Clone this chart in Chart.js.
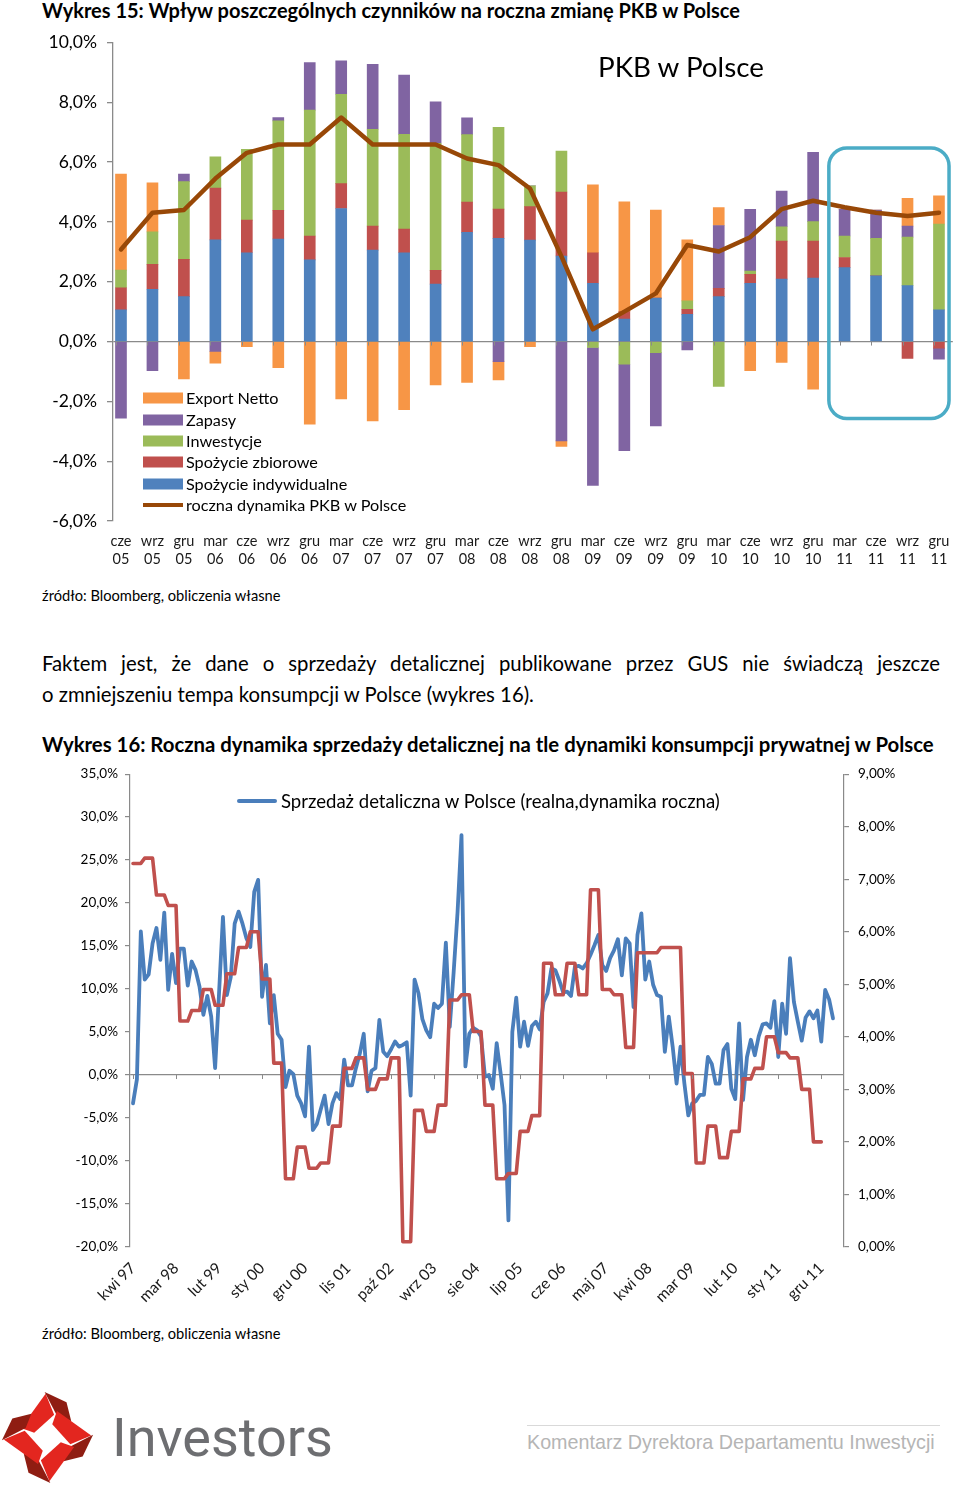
<!DOCTYPE html>
<html><head><meta charset="utf-8">
<script src="https://cdn.jsdelivr.net/npm/chart.js@4.4.1/dist/chart.umd.min.js"></script>
<style>
html,body{margin:0;padding:0;background:#fff;}
body{width:960px;height:1485px;position:relative;overflow:hidden;font-family:Lato,'Noto Sans',sans-serif;color:#000;}
.t{position:absolute;white-space:nowrap;line-height:1.2;transform:translateY(-50%);}
canvas{position:absolute;left:0;}
.sw{position:absolute;left:143px;width:40px;height:11px;transform:translateY(-50%);}
</style></head><body>

<canvas id="c1" width="960" height="558" style="top:22px"></canvas>
<canvas id="c2" width="960" height="563" style="top:757px"></canvas>

<div class="t fit" data-w="700" style="left:42px;top:10px;font-weight:700;font-size:18px">Wykres 15: Wpływ poszczególnych czynników na roczna zmianę PKB w Polsce</div>
<div class="t fit" data-w="167" style="left:598px;top:67px;font-size:28px">PKB w Polsce</div>

<div class="sw" style="top:398px;background:#F79646"></div>
<div class="sw" style="top:420px;background:#8064A2"></div>
<div class="sw" style="top:441px;background:#9BBB59"></div>
<div class="sw" style="top:462px;background:#C0504D"></div>
<div class="sw" style="top:484px;background:#4F81BD"></div>
<div class="sw" style="top:505px;height:4px;background:#984807"></div>
<div class="t lg1" style="left:186px;top:398px;font-size:16px">Export Netto</div>
<div class="t lg1" style="left:186px;top:420px;font-size:16px">Zapasy</div>
<div class="t lg1" style="left:186px;top:441px;font-size:16px">Inwestycje</div>
<div class="t lg1" style="left:186px;top:462px;font-size:16px">Spożycie zbiorowe</div>
<div class="t lg1" style="left:186px;top:484px;font-size:16px">Spożycie indywidualne</div>
<div class="t lg1" id="lg1last" style="left:186px;top:505px;font-size:16px">roczna dynamika PKB w Polsce</div>

<div class="t fit" data-w="239" style="left:42px;top:596px;font-size:14px">źródło: Bloomberg, obliczenia własne</div>

<div class="t" id="p1" style="left:42px;top:663px;width:898px;white-space:normal;text-align:justify;text-align-last:justify;font-size:18px">Faktem jest, że dane o sprzedaży detalicznej publikowane przez GUS nie świadczą jeszcze</div>
<div class="t" id="p2" style="left:42px;top:694px;font-size:18px">o zmniejszeniu tempa konsumpcji w Polsce (wykres 16).</div>

<div class="t fit" data-w="894" style="left:42px;top:744px;font-weight:700;font-size:18px">Wykres 16: Roczna dynamika sprzedaży detalicznej na tle dynamiki konsumpcji prywatnej w Polsce</div>

<div style="position:absolute;left:237px;top:799px;width:40px;height:4px;background:#4A7EBB;border-radius:2px"></div>
<div class="t fit" data-w="440" style="left:281px;top:801px;font-size:17px">Sprzedaż detaliczna w Polsce (realna,dynamika roczna)</div>

<div class="t fit" data-w="239" style="left:42px;top:1334px;font-size:14px">źródło: Bloomberg, obliczenia własne</div>

<svg style="position:absolute;left:0;top:1390px" width="95" height="95" viewBox="0 0 100 100">
  <defs>
    <g id="arm">
      <polygon points="48,4 57,26 36,45 22,40" fill="#e3261f"/>
      <polygon points="47,2 70,13 75,33 60,27" fill="#8f1d12"/>
    </g>
  </defs>
  <use href="#arm"/>
  <use href="#arm" transform="rotate(90 50 50)"/>
  <use href="#arm" transform="rotate(180 50 50)"/>
  <use href="#arm" transform="rotate(270 50 50)"/>
</svg>
<div class="t fit" data-w="221" style="left:112px;top:1438px;font-family:Roboto,sans-serif;font-size:54px;color:#6d6e71">Investors</div>
<div style="position:absolute;left:527px;top:1425px;width:413px;height:1px;background:#d9d9d9"></div>
<div class="t fit" data-w="408" style="left:527px;top:1443px;font-family:'Liberation Sans',Arial,sans-serif;font-size:19px;color:#b5b5b5">Komentarz Dyrektora Departamentu Inwestycji</div>

<script>
// ---------- Wykres 15 data ----------
const quarters = ['cze 05','wrz 05','gru 05','mar 06','cze 06','wrz 06','gru 06','mar 07','cze 07','wrz 07','gru 07','mar 08','cze 08','wrz 08','gru 08','mar 09','cze 09','wrz 09','gru 09','mar 10','cze 10','wrz 10','gru 10','mar 11','cze 11','wrz 11','gru 11'];
const spozycieIndywidualne = [1.06,1.75,1.50,3.40,2.97,3.43,2.73,4.45,3.06,2.97,1.92,3.65,3.45,3.39,2.86,1.95,0.75,1.45,0.91,1.50,1.95,2.09,2.12,2.47,2.20,1.87,1.06];
const spozycieZbiorowe = [0.74,0.83,1.25,1.73,1.09,0.96,0.80,0.83,0.80,0.79,0.46,1.01,0.98,1.12,2.14,1.02,0.25,0,0.17,0.28,0.30,1.27,1.24,0.34,0,-0.56,-0.22];
const inwestycje = [0.59,1.09,2.60,1.05,2.37,2.99,4.21,2.99,3.24,3.17,4.25,2.26,2.73,0.70,1.37,-0.20,-0.76,-0.37,0.28,-1.50,0.11,0.48,0.65,0.72,1.25,1.62,2.87];
const zapasy = [-2.56,-0.97,0.25,-0.33,0,0.11,1.59,1.12,2.17,1.98,1.39,0.56,-0.67,0,-3.32,-4.61,-2.89,-2.45,-0.28,2.10,2.06,1.19,2.32,0.89,0.95,0.37,-0.37];
const exportNetto = [3.21,1.64,-1.25,-0.39,-0.17,-0.87,-2.76,-1.92,-2.65,-2.28,-1.45,-1.37,-0.61,-0.17,-0.19,2.27,3.67,2.95,2.04,0.60,-0.97,-0.70,-1.59,0,0,0.93,0.94];
const pkbRoczna = [3.08,4.31,4.40,5.45,6.31,6.59,6.59,7.49,6.59,6.59,6.59,6.12,5.90,5.12,2.85,0.41,1.00,1.61,3.23,3.01,3.49,4.43,4.71,4.49,4.31,4.20,4.31];
// highlighted range (data units): quarters 22.5..26.3, values 6.47..-2.57
const highlightQuarters = [22.5, 26.32];
const highlightValues = [6.47, -2.57];

// ---------- Wykres 16 data ----------
const tickMonths = [0,11,22,33,44,55,66,77,88,99,110,121,132,143,154,165,176];
const tickLabels = ['kwi 97','mar 98','lut 99','sty 00','gru 00','lis 01','paź 02','wrz 03','sie 04','lip 05','cze 06','maj 07','kwi 08','mar 09','lut 10','sty 11','gru 11'];
const sprzedazDetaliczna = [
 -3.3,-0.5,16.7,11.1,11.7,15.3,17.1,13.4,18.9,9.9,14.1,10.7,14.7,14.7,10.4,13.2,12.2,10.3,7.0,9.2,
 6.8,0.8,9.5,18.4,9.3,11.4,17.6,19.0,17.6,15.9,14.9,21.3,22.7,9.1,12.8,6.0,9.3,4.8,4.1,-1.4,
 0.5,0.1,-2.4,-3.3,-4.8,3.3,-6.4,-5.7,-4.0,-2.4,-5.7,-3.3,-2.1,-2.8,1.8,-1.2,-1.2,0.8,2.5,4.8,
 -1.9,0.5,0.8,6.4,2.7,2.2,3.0,3.9,3.3,3.5,3.8,-2.4,11.1,9.5,6.5,5.2,4.4,8.3,7.8,8.3,
 15.4,5.6,12.0,19.0,27.9,1.0,4.8,5.5,5.2,4.5,-0.2,0.0,-1.6,3.7,0.2,-3.5,-16.9,5.0,9.0,3.3,
 6.2,3.4,5.7,6.2,5.3,8.5,9.5,12.4,12.2,11.0,9.6,9.7,9.2,12.6,12.7,12.4,13.0,14.0,15.1,16.3,
 12.8,12.1,13.6,14.5,15.8,11.6,15.9,15.3,7.9,16.3,18.8,11.1,13.2,10.5,9.3,9.1,2.7,6.8,3.3,-1.0,
 3.3,-1.0,-4.7,-3.3,-3.0,-2.3,-2.3,2.1,1.3,-1.0,-1.0,2.9,3.6,-1.6,-2.8,6.0,-2.9,2.1,4.1,2.3,
 4.5,5.9,6.0,5.5,8.6,2.1,8.3,4.8,13.6,8.5,6.2,4.0,6.7,7.4,6.6,7.5,3.9,9.9,8.8,6.6
];
const konsumpcjaPrywatna = [
 7.3,7.3,7.3, 7.4,7.4,7.4, 6.7,6.7,6.7, 6.5,6.5,6.5, 4.3,4.3,4.3, 4.5,4.5,4.5, 4.9,4.9,4.9, 4.6,4.6,4.6,
 5.2,5.2,5.2, 5.7,5.7,5.7, 6.0,6.0,6.0, 5.1,5.1,5.1, 3.5,3.5,3.5, 1.3,1.3,1.3, 1.9,1.9,1.9, 1.5,1.5,1.5,
 1.6,1.6,1.6, 2.3,2.3,2.3, 3.4,3.4,3.4, 3.6,3.6,3.6, 3.0,3.0,3.0, 3.2,3.2,3.2, 3.6,3.6,3.6, 0.1,0.1,0.1,
 2.6,2.6,2.6, 2.2,2.2,2.2, 2.7,2.7,2.7, 4.7,4.7,4.7, 4.8,4.8,4.8, 4.1,4.1,4.1, 2.7,2.7,2.7, 1.3,1.3,1.3,
 1.4,1.4,1.4, 2.2,2.2,2.2, 2.5,2.5,2.5, 5.4,5.4,5.4, 4.8,4.8,4.8, 5.4,5.4,5.4, 4.8,4.8,4.8, 6.8,6.8,6.8,
 4.9,4.9,4.9, 4.8,4.8,4.8, 3.8,3.8,3.8, 5.6,5.6,5.6, 5.6,5.6,5.6, 5.7,5.7,5.7, 5.7,5.7,5.7, 3.3,3.3,3.3,
 1.6,1.6,1.6, 2.3,2.3,2.3, 1.7,1.7,1.7, 2.2,2.2,2.2, 3.2,3.2,3.2, 3.4,3.4,3.4, 4.0,4.0,4.0, 3.7,3.7,3.7,
 3.6,3.6,3.6, 3.0,3.0,3.0, 2.0,2.0,2.0
];

const toXY = arr => arr.map((v,i)=>({x:i,y:v}));
const pct1 = v => v.toFixed(1).replace('.',',')+'%';
const pct2 = v => v.toFixed(2).replace('.',',')+'%';
const AX = '#8a8a8a';

function fitText(){
  const c = document.createElement('canvas').getContext('2d');
  const measure = el => { const cs=getComputedStyle(el); c.font = `${cs.fontStyle} ${cs.fontWeight} ${cs.fontSize} ${cs.fontFamily}`; return {w:c.measureText(el.textContent).width, fs:parseFloat(cs.fontSize)}; };
  document.querySelectorAll('.fit').forEach(el=>{ const m=measure(el); el.style.fontSize=(m.fs*(+el.dataset.w)/m.w)+'px'; });
  const l = document.getElementById('lg1last'); const ml = measure(l); const fs1 = ml.fs*221/ml.w;
  document.querySelectorAll('.lg1').forEach(el=>el.style.fontSize=fs1+'px');
  const p2 = document.getElementById('p2'); const mp = measure(p2); const fs2 = mp.fs*493/mp.w;
  p2.style.fontSize = fs2+'px'; document.getElementById('p1').style.fontSize = fs2+'px';
}

function build(){
  fitText();
  Chart.defaults.font.family = "Lato, 'Noto Sans', sans-serif";
  Chart.defaults.color = '#111';

  const highlight = {id:'hl', afterDraw(chart){
    const {ctx, scales:{x,y}} = chart;
    const l=x.getPixelForValue(highlightQuarters[0]), r=x.getPixelForValue(highlightQuarters[1]);
    const t=y.getPixelForValue(highlightValues[0]), b=y.getPixelForValue(highlightValues[1]);
    ctx.save(); ctx.strokeStyle='#4BACC6'; ctx.lineWidth=3.5; ctx.beginPath(); ctx.roundRect(l,t,r-l,b-t,18); ctx.stroke();
    // small category tick marks on the zero line
    const y0=y.getPixelForValue(0); ctx.strokeStyle=AX; ctx.lineWidth=1;
    quarters.forEach((q,i)=>{ const px=Math.round(x.getPixelForValue(i)-5)+0.5; ctx.beginPath(); ctx.moveTo(px,y0); ctx.lineTo(px,y0+4); ctx.stroke(); });
    ctx.restore();
  }};

  const barDs = (label, data, color) => ({type:'bar', label, data:toXY(data), backgroundColor:color, stack:'s', order:1, barThickness:11});
  new Chart(document.getElementById('c1'), {
    type:'bar',
    data:{datasets:[
      {type:'line', label:'roczna dynamika PKB w Polsce', data:toXY(pkbRoczna), borderColor:'#984807', borderWidth:4.5, pointRadius:0, tension:0, order:0, stack:'pkb', borderJoinStyle:'round', borderCapStyle:'round'},
      barDs('Spożycie indywidualne', spozycieIndywidualne, '#4F81BD'),
      barDs('Spożycie zbiorowe', spozycieZbiorowe, '#C0504D'),
      barDs('Inwestycje', inwestycje, '#9BBB59'),
      barDs('Zapasy', zapasy, '#8064A2'),
      barDs('Export Netto', exportNetto, '#F79646')
    ]},
    options:{
      responsive:false, animation:false, events:[],
      layout:{padding:{top:4,right:5,left:0,bottom:0}},
      plugins:{legend:{display:false}, tooltip:{enabled:false}},
      scales:{
        x:{type:'linear', offset:false, min:-0.254, max:26.44,
           grid:{display:false, drawTicks:false}, border:{display:false},
           afterBuildTicks:s=>{ s.ticks = quarters.map((_,i)=>({value:i})); },
           afterFit:s=>{ s.height = 59; },
           ticks:{autoSkip:false, maxRotation:0, minRotation:0, padding:10.5, color:'#1a1a1a',
                  font:{size:14.5, lineHeight:1.3}, callback:v=>quarters[v]?quarters[v].split(' '):''}},
        y:{stacked:true, min:-6, max:10,
           afterFit:s=>{ s.width = 113; },
           ticks:{stepSize:2, callback:v=>pct1(v), font:{size:17.5}, color:'#000', padding:10},
           grid:{color:c=>(c.tick && c.tick.value===0)?AX:'rgba(0,0,0,0)', tickColor:AX, tickLength:6, lineWidth:1.3},
           border:{color:AX, width:1.3}}
      }
    },
    plugins:[highlight]
  });

  const zeroTicks = {id:'zt', afterDraw(chart){
    const {ctx, scales:{x,y}} = chart; const y0=y.getPixelForValue(0);
    ctx.save(); ctx.strokeStyle=AX; ctx.lineWidth=1;
    tickMonths.forEach(m=>{ const px=Math.round(x.getPixelForValue(m))+0.5; ctx.beginPath(); ctx.moveTo(px,y0); ctx.lineTo(px,y0+4); ctx.stroke(); });
    ctx.restore();
  }};

  new Chart(document.getElementById('c2'), {
    type:'line',
    data:{datasets:[
      {label:'Konsumpcja prywatna', data:toXY(konsumpcjaPrywatna), yAxisID:'y2', borderColor:'#C0504D', borderWidth:3.6, pointRadius:0, tension:0, order:0, borderJoinStyle:'round', borderCapStyle:'round'},
      {label:'Sprzedaż detaliczna w Polsce (realna,dynamika roczna)', data:toXY(sprzedazDetaliczna), yAxisID:'y', borderColor:'#4A7EBB', borderWidth:3.8, pointRadius:0, tension:0, order:1, borderJoinStyle:'round', borderCapStyle:'round'}
    ]},
    options:{
      responsive:false, animation:false, events:[],
      layout:{padding:{top:4,right:0,left:0,bottom:0}},
      plugins:{legend:{display:false}, tooltip:{enabled:false}},
      scales:{
        x:{type:'linear', offset:false, min:-0.767, max:181.81,
           grid:{display:false, drawTicks:false}, border:{display:false},
           afterBuildTicks:s=>{ s.ticks = tickMonths.map(m=>({value:m})); },
           afterFit:s=>{ s.height = 73; },
           ticks:{autoSkip:false, maxRotation:45, minRotation:45, padding:12, color:'#1a1a1a', font:{size:15.5},
                  callback:v=>{ const k=tickMonths.indexOf(v); return k>=0?tickLabels[k]:''; }}},
        y:{position:'left', min:-20, max:35,
           afterFit:s=>{ s.width = 130; },
           ticks:{stepSize:5, callback:v=>pct1(v), font:{size:13.5}, color:'#000', padding:7},
           grid:{color:c=>(c.tick && c.tick.value===0)?AX:'rgba(0,0,0,0)', tickColor:AX, tickLength:5, lineWidth:1.2},
           border:{color:AX, width:1.2}},
        y2:{position:'right', min:0, max:9,
           afterFit:s=>{ s.width = 116; },
           ticks:{stepSize:1, callback:v=>pct2(v), font:{size:13.5}, color:'#000', padding:9},
           grid:{drawOnChartArea:false, tickColor:AX, tickLength:5, lineWidth:1.2},
           border:{color:AX, width:1.2}}
      }
    },
    plugins:[zeroTicks]
  });
}

const fontLoads = ['400 16px Lato','700 18px Lato','400 50px Roboto',"400 19px 'Liberation Sans'"].map(f=>document.fonts.load(f).catch(()=>null));
Promise.all(fontLoads).then(build, build);
</script>
</body></html>
